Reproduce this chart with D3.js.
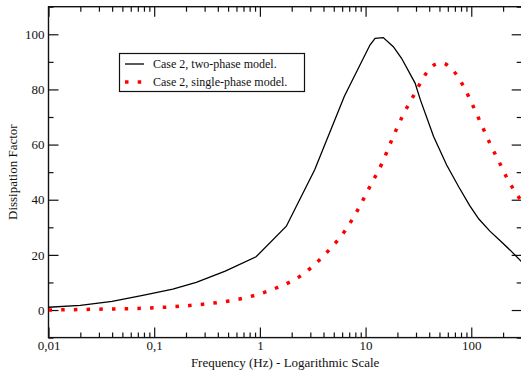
<!DOCTYPE html>
<html>
<head>
<meta charset="utf-8">
<script src="https://cdn.jsdelivr.net/npm/d3@7/dist/d3.min.js"></script>
<style>
  html, body { margin: 0; padding: 0; background: #fff; }
  svg { display: block; }
  svg text { font-family: "Liberation Serif", "Times New Roman", Times, serif !important; fill: #111; }
</style>
</head>
<body>
<script>
// ---- data ----
const twoPhaseFreq  = [0.01, 0.02, 0.04, 0.08, 0.15, 0.25, 0.47, 0.92, 1.78, 3.3, 6.3, 11.0, 12.3, 14.7, 18.3, 21.9, 29.4, 33, 44, 58.5, 76, 97, 118, 150, 189, 232, 300];
const twoPhaseValue = [1.0, 1.7, 3.1, 5.4, 7.6, 10.0, 14.1, 19.3, 30.4, 50.9, 77.5, 96.1, 98.5, 98.8, 95.5, 91.3, 82.3, 76.2, 62.9, 52.6, 44.7, 37.8, 33.0, 28.6, 25.0, 21.8, 17.5];

const singlePhaseFreq  = [0.01, 0.03, 0.1, 0.29, 0.51, 0.87, 1.47, 2.41, 3.04, 4.53, 6.41, 8.57, 11.1, 14.3, 17.7, 22.2, 29, 38.2, 46.4, 53, 60.7, 72.9, 84.2, 95.3, 120, 151, 193, 219, 252, 289, 300];
const singlePhaseValue = [0.0, 0.3, 0.8, 2.1, 3.3, 5.2, 8.2, 12.3, 15.3, 21.8, 28.8, 36.8, 45.1, 53.2, 61.7, 70.1, 78.3, 86.3, 89.2, 89.6, 88.6, 85.2, 81.2, 77.1, 68.7, 60.2, 52.0, 47.7, 43.7, 40.3, 39.5];

const xMajorTicks = [0.01, 0.1, 1, 10, 100];
const xMajorLabels = ["0,01", "0,1", "1", "10", "100"];
const yMajorTicks = [0, 20, 40, 60, 80, 100];
const yMinorTicks = [-10, 10, 30, 50, 70, 90, 110];

const seriesNames = ["Case 2, two-phase model.", "Case 2, single-phase model."];
const xTitle = "Frequency (Hz) - Logarithmic Scale";
const yTitle = "Dissipation Factor";

// ---- layout ----
const W = 521, H = 370;
const L = 48.5, R = 521.7, T = 6.7, B = 337.6;
const FONT = '"Liberation Serif", "Times New Roman", Times, serif';

const svg = d3.select("body").append("svg").attr("width", W).attr("height", H);

const x = d3.scaleLog().domain([0.01, 300]).range([L, R]);
const y = d3.scaleLinear().domain([-10, 110]).range([B, T]);

const xMinor = [];
for (let d = 0.01; d < 1000; d *= 10) {
  for (let k = 2; k <= 9; k++) {
    const v = +(d * k).toPrecision(3);
    if (v <= 300) xMinor.push(v);
  }
}

svg.append("defs").append("clipPath").attr("id", "clip")
  .append("rect").attr("x", L).attr("y", T).attr("width", R - L).attr("height", B - T);

function styleAxis(g) {
  g.attr("font-family", null).style("font-family", FONT);
  g.selectAll("path").remove();
  g.selectAll("line").attr("stroke", "#111").attr("stroke-width", 1.2);
  g.selectAll("text").style("font-family", FONT).attr("font-size", 13).attr("fill", "#111");
}

// bottom axis
svg.append("g").attr("transform", `translate(0,${B})`)
  .call(d3.axisBottom(x).tickValues(xMajorTicks).tickSizeInner(-10).tickSizeOuter(0).tickPadding(3)
    .tickFormat((d, i) => xMajorLabels[i]))
  .call(styleAxis);
svg.append("g").attr("transform", `translate(0,${B})`)
  .call(d3.axisBottom(x).tickValues(xMinor).tickSizeInner(-5).tickSizeOuter(0).tickFormat(""))
  .call(styleAxis);
// top axis (mirror)
svg.append("g").attr("transform", `translate(0,${T})`)
  .call(d3.axisTop(x).tickValues(xMajorTicks).tickSizeInner(-10).tickSizeOuter(0).tickFormat(""))
  .call(styleAxis);
svg.append("g").attr("transform", `translate(0,${T})`)
  .call(d3.axisTop(x).tickValues(xMinor).tickSizeInner(-5).tickSizeOuter(0).tickFormat(""))
  .call(styleAxis);
// left axis
svg.append("g").attr("transform", `translate(${L},0)`)
  .call(d3.axisLeft(y).tickValues(yMajorTicks).tickSizeInner(-10).tickSizeOuter(0).tickPadding(4))
  .call(styleAxis);
svg.append("g").attr("transform", `translate(${L},0)`)
  .call(d3.axisLeft(y).tickValues(yMinorTicks).tickSizeInner(-5).tickSizeOuter(0).tickFormat(""))
  .call(styleAxis);
// right axis (mirror)
svg.append("g").attr("transform", `translate(${R},0)`)
  .call(d3.axisRight(y).tickValues(yMajorTicks).tickSizeInner(-10).tickSizeOuter(0).tickFormat(""))
  .call(styleAxis);
svg.append("g").attr("transform", `translate(${R},0)`)
  .call(d3.axisRight(y).tickValues(yMinorTicks).tickSizeInner(-5).tickSizeOuter(0).tickFormat(""))
  .call(styleAxis);

// frame
svg.append("rect").attr("x", L).attr("y", T).attr("width", R - L).attr("height", B - T)
  .attr("fill", "none").attr("stroke", "#111").attr("stroke-width", 1.4);

// series
const twoPhase = twoPhaseFreq.map((f, i) => [f, twoPhaseValue[i]]);
const singlePhase = singlePhaseFreq.map((f, i) => [f, singlePhaseValue[i]]);

const plot = svg.append("g").attr("clip-path", "url(#clip)");

plot.append("path").datum(twoPhase)
  .attr("fill", "none").attr("stroke", "#000").attr("stroke-width", 1.3)
  .attr("d", d3.line().x(d => x(d[0])).y(d => y(d[1])));

plot.append("path").datum(singlePhase)
  .attr("fill", "none").attr("stroke", "#ff0000").attr("stroke-width", 3.5)
  .attr("stroke-dasharray", "3.5 9.2")
  .attr("d", d3.line().curve(d3.curveMonotoneX).x(d => x(d[0])).y(d => y(d[1])));

// legend
const lg = svg.append("g");
lg.append("rect").attr("x", 119.5).attr("y", 53.5).attr("width", 185).attr("height", 38)
  .attr("fill", "#fff").attr("stroke", "#111").attr("stroke-width", 1.2);
lg.append("line").attr("x1", 125).attr("x2", 144).attr("y1", 64).attr("y2", 64)
  .attr("stroke", "#000").attr("stroke-width", 1.3);
lg.append("line").attr("x1", 125).attr("x2", 144).attr("y1", 82).attr("y2", 82)
  .attr("stroke", "#ff0000").attr("stroke-width", 3.5).attr("stroke-dasharray", "3.5 9.2");
lg.append("text").attr("x", 153).attr("y", 68.3).attr("font-size", 12).style("font-family", FONT).text(seriesNames[0]);
lg.append("text").attr("x", 153).attr("y", 86).attr("font-size", 12).style("font-family", FONT).text(seriesNames[1]);

// titles
svg.append("text").attr("x", (L + R) / 2).attr("y", 367).attr("text-anchor", "middle")
  .attr("font-size", 13).style("font-family", FONT).text(xTitle);
svg.append("text").attr("transform", `translate(16.5,${(T + B) / 2}) rotate(-90)`)
  .attr("text-anchor", "middle").attr("font-size", 13).style("font-family", FONT).text(yTitle);
</script>
</body>
</html>
